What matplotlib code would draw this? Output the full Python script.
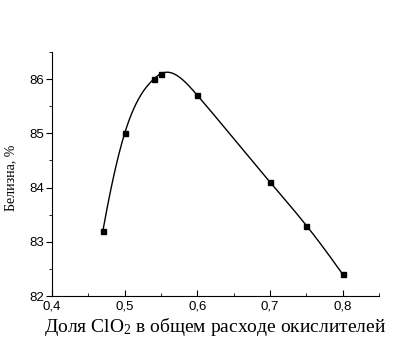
import numpy as np
import matplotlib
matplotlib.use('Agg')
import matplotlib.pyplot as plt
from matplotlib.ticker import MultipleLocator

# данные
dolya = [0.47, 0.50, 0.54, 0.55, 0.60, 0.70, 0.75, 0.80]
belizna = [83.2, 85.0, 86.0, 86.1, 85.7, 84.1, 83.3, 82.4]


def endSlope(x0, x1, x2, y0, y1, y2):
    # наклон параболы через три крайние точки в точке x0
    d01 = (y1 - y0) / (x1 - x0)
    d12 = (y2 - y1) / (x2 - x1)
    dd = (d12 - d01) / (x2 - x0)
    return d01 + (x0 - x1) * dd


def splineCurve(x, y, n=400):
    # кубический сплайн с заданными наклонами на концах
    x = np.asarray(x, float)
    y = np.asarray(y, float)
    k = len(x)
    h = np.diff(x)
    s0 = endSlope(x[0], x[1], x[2], y[0], y[1], y[2])
    sn = endSlope(x[-1], x[-2], x[-3], y[-1], y[-2], y[-3])
    A = np.zeros((k, k))
    b = np.zeros(k)
    A[0, 0:2] = [2 * h[0], h[0]]
    b[0] = 6 * ((y[1] - y[0]) / h[0] - s0)
    A[-1, -2:] = [h[-1], 2 * h[-1]]
    b[-1] = 6 * (sn - (y[-1] - y[-2]) / h[-1])
    for i in range(1, k - 1):
        A[i, i - 1] = h[i - 1]
        A[i, i] = 2 * (h[i - 1] + h[i])
        A[i, i + 1] = h[i]
        b[i] = 6 * ((y[i + 1] - y[i]) / h[i] - (y[i] - y[i - 1]) / h[i - 1])
    M = np.linalg.solve(A, b)
    xs = np.linspace(x[0], x[-1], n)
    ys = np.zeros(n)
    for j, t in enumerate(xs):
        i = min(np.searchsorted(x, t, side='right') - 1, k - 2)
        a = x[i + 1] - t
        c = t - x[i]
        ys[j] = (M[i] * a ** 3 + M[i + 1] * c ** 3) / (6 * h[i]) \
            + (y[i] / h[i] - M[i] * h[i] / 6) * a \
            + (y[i + 1] / h[i] - M[i + 1] * h[i] / 6) * c
    return xs, ys


plt.rcParams['font.family'] = ['Liberation Sans', 'DejaVu Sans']
plt.rcParams['mathtext.fontset'] = 'custom'
plt.rcParams['mathtext.rm'] = 'Liberation Serif'

fig = plt.figure(figsize=(3.94, 3.44), dpi=100)
ax = fig.add_axes([0.132, 0.1395, 0.83, 0.7095])

xs, ys = splineCurve(dolya, belizna)
ax.plot(xs, ys, color='black', lw=1.0)
ax.plot(dolya, belizna, 's', color='black', markersize=3.6)

ax.set_xlim(0.4, 0.85)
ax.set_ylim(82, 86.5)
ax.xaxis.set_major_locator(MultipleLocator(0.1))
ax.xaxis.set_minor_locator(MultipleLocator(0.05))
ax.yaxis.set_major_locator(MultipleLocator(1))
ax.yaxis.set_minor_locator(MultipleLocator(0.5))
ax.xaxis.set_major_formatter(plt.FuncFormatter(lambda v, p: ('%.1f' % v).replace('.', ',')))

ax.spines['top'].set_visible(False)
ax.spines['right'].set_visible(False)
ax.tick_params(axis='x', which='both', direction='in', labelsize=9.5, pad=3)
ax.tick_params(axis='y', which='both', direction='out', labelsize=9.5, pad=2)
ax.tick_params(which='major', length=4)
ax.tick_params(which='minor', length=2.5)

ax.set_ylabel('Белизна, %', family=['Liberation Serif'], fontsize=10)
ax.yaxis.set_label_coords(-0.107, 0.484)
ax.set_xlabel('Доля ClO$\\mathregular{_2}$ в общем расходе окислителей',
              family=['Liberation Serif'], fontsize=14, labelpad=3)

fig.savefig('out.png', dpi=100)
